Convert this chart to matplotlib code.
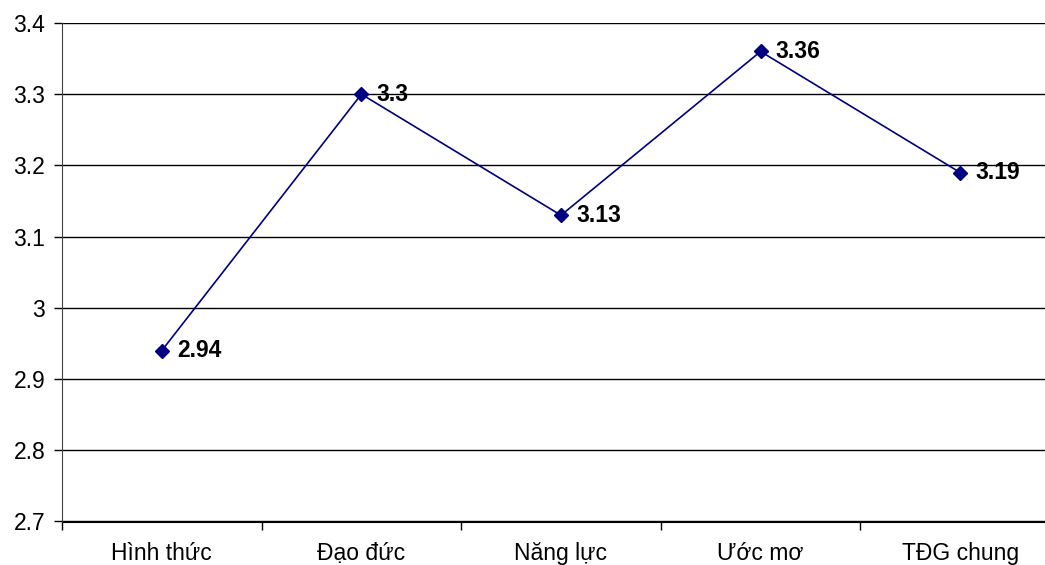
import matplotlib
matplotlib.use('Agg')
import matplotlib.pyplot as plt
from matplotlib.ticker import FixedLocator

plt.rcParams['font.family'] = ['Liberation Sans', 'DejaVu Sans']

categories = ['Hình thức', 'Đạo đức', 'Năng lực', 'Ước mơ', 'TĐG chung']
scores = [2.94, 3.3, 3.13, 3.36, 3.19]
y_ticks = [2.7, 2.8, 2.9, 3.0, 3.1, 3.2, 3.3, 3.4]
y_labels = ['2.7', '2.8', '2.9', '3', '3.1', '3.2', '3.3', '3.4']

fig = plt.figure(figsize=(10.45, 5.65), dpi=100)
ax = fig.add_axes([62/1045, 1-521.5/565, 998/1045, 498.5/565])

x = list(range(len(categories)))
ax.plot(x, scores, color='#000080', lw=1.2, marker='D', ms=7.5, zorder=3)
for xi, v in zip(x, scores):
    ax.annotate(f'{v:g}', (xi, v), xytext=(11, 0), textcoords='offset points',
                va='center', ha='left', fontsize=16.5, fontweight='bold')

ax.set_xlim(-0.5, len(categories)-0.5)
ax.set_ylim(2.7, 3.4)
ax.set_yticks(y_ticks)
ax.set_yticklabels(y_labels, fontsize=16.5)
ax.set_xticks(x)
ax.set_xticklabels(categories, fontsize=16.5)
ax.xaxis.set_minor_locator(FixedLocator([i-0.5 for i in range(len(categories)+1)]))
ax.tick_params(axis='x', which='major', length=0, pad=15)
ax.tick_params(axis='x', which='minor', length=6, width=1, direction='out')
ax.tick_params(axis='y', length=6, width=1, direction='out', pad=6)

ax.grid(axis='y', color='black', lw=1)
ax.set_axisbelow(True)
for s in ['top', 'right']:
    ax.spines[s].set_visible(False)
ax.spines['left'].set_color('#404040')
ax.spines['bottom'].set_color('black')

fig.savefig('out.png', dpi=100)
